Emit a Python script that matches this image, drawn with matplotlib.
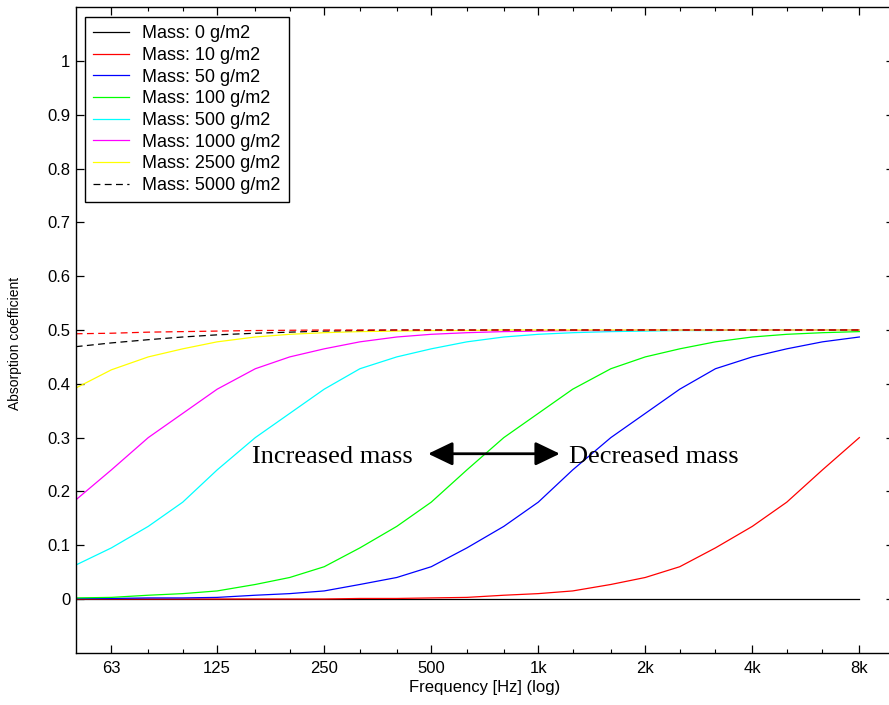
import numpy as np
import matplotlib
matplotlib.use("Agg")
import matplotlib.pyplot as plt
from matplotlib.ticker import FixedLocator, FuncFormatter, NullFormatter

plt.rcParams["font.family"] = ["Liberation Sans", "DejaVu Sans"]

# third-octave band centre frequencies (Hz)
freqs = [50, 63, 80, 100, 125, 160, 200, 250, 315, 400, 500, 630, 800,
         1000, 1250, 1600, 2000, 2500, 3150, 4000, 5000, 6300, 8000]

# curves, one per surface mass
m0 = [0.0] * 23
m10 = [0, 0, 0, 0, 0, 0, 0, 0, 0.001, 0.001, 0.002, 0.003, 0.007, 0.010,
       0.015, 0.027, 0.040, 0.060, 0.095, 0.135, 0.180, 0.240, 0.300]
m50 = [0.001, 0.001, 0.002, 0.002, 0.003, 0.007, 0.010, 0.015, 0.027, 0.040,
       0.060, 0.095, 0.135, 0.180, 0.240, 0.300, 0.345, 0.390, 0.428, 0.450,
       0.465, 0.478, 0.487]
m100 = [0.002, 0.003, 0.007, 0.010, 0.015, 0.027, 0.040, 0.060, 0.095, 0.135,
        0.180, 0.240, 0.300, 0.345, 0.390, 0.428, 0.450, 0.465, 0.478, 0.487,
        0.492, 0.495, 0.497]
m500 = [0.063, 0.095, 0.135, 0.180, 0.240, 0.300, 0.345, 0.390, 0.428, 0.450,
        0.465, 0.478, 0.487, 0.492, 0.495, 0.497, 0.498, 0.499, 0.499, 0.500,
        0.500, 0.500, 0.500]
m1000 = [0.184, 0.240, 0.300, 0.345, 0.390, 0.428, 0.450, 0.465, 0.478, 0.487,
         0.492, 0.495, 0.497, 0.498, 0.499, 0.499, 0.500, 0.500, 0.500, 0.500,
         0.500, 0.500, 0.500]
m2500 = [0.392, 0.426, 0.450, 0.465, 0.478, 0.487, 0.492, 0.495, 0.497, 0.498,
         0.499, 0.499, 0.500, 0.500, 0.500, 0.500, 0.500, 0.500, 0.500, 0.500,
         0.500, 0.500, 0.500]
m5000 = [0.469, 0.476, 0.482, 0.487, 0.491, 0.494, 0.496, 0.498, 0.499, 0.500,
         0.500, 0.500, 0.500, 0.500, 0.500, 0.500, 0.500, 0.500, 0.500, 0.500,
         0.500, 0.500, 0.500]
# extra red dashed curve (not in legend)
m_extra = [0.493, 0.494, 0.496, 0.497, 0.498, 0.499, 0.4995, 0.500, 0.500,
           0.500, 0.500, 0.500, 0.500, 0.500, 0.500, 0.500, 0.500, 0.500,
           0.500, 0.500, 0.500, 0.500, 0.500]

series = [
    ("Mass: 0 g/m2", m0, "#000000", "-"),
    ("Mass: 10 g/m2", m10, "#ff0000", "-"),
    ("Mass: 50 g/m2", m50, "#0000ff", "-"),
    ("Mass: 100 g/m2", m100, "#00ff00", "-"),
    ("Mass: 500 g/m2", m500, "#00ffff", "-"),
    ("Mass: 1000 g/m2", m1000, "#ff00ff", "-"),
    ("Mass: 2500 g/m2", m2500, "#ffff00", "-"),
    ("Mass: 5000 g/m2", m5000, "#000000", "--"),
]

tick_freqs = [63, 125, 250, 500, 1000, 2000, 4000, 8000]
tick_labels = ["63", "125", "250", "500", "1k", "2k", "4k", "8k"]
minor_freqs = [80, 100, 160, 200, 315, 400, 630, 800, 1250, 1600,
               2500, 3150, 5000, 6300]

fig = plt.figure(figsize=(8.89, 7.05), dpi=100)
ax = fig.add_axes([0.08515, 0.07404, 0.92025, 0.91575])

for label, vals, color, ls in series:
    if ls == "--":
        ax.plot(freqs, vals, color=color, lw=0.9, dashes=(5.5, 3.5), label=label)
    else:
        ax.plot(freqs, vals, color=color, lw=0.9, label=label)
ax.plot(freqs, m_extra, color="#ff0000", lw=0.9, dashes=(5.5, 3.5))

ax.set_xscale("log")
ax.set_xlim(50, 10000)
ax.set_ylim(-0.1, 1.1)

ax.xaxis.set_major_locator(FixedLocator(tick_freqs))
ax.xaxis.set_major_formatter(FuncFormatter(lambda v, p: tick_labels[tick_freqs.index(int(round(v)))]
                                           if int(round(v)) in tick_freqs else ""))
ax.xaxis.set_minor_locator(FixedLocator(minor_freqs))
ax.xaxis.set_minor_formatter(NullFormatter())
ax.set_yticks(np.arange(0, 1.01, 0.1))
ax.yaxis.set_major_formatter(FuncFormatter(lambda v, p: "%g" % round(v, 2)))

ax.tick_params(which="both", direction="in", top=True, right=True, labelsize=12)
ax.tick_params(which="major", length=6, width=0.9)
ax.tick_params(which="minor", length=3, width=0.8)
ax.tick_params(axis="x", pad=6)
ax.tick_params(axis="y", pad=4)
for sp in ax.spines.values():
    sp.set_linewidth(1.0)

ax.set_xlabel("Frequency [Hz] (log)", fontsize=12, labelpad=3)
fig.text(15 / 889, 1 - 343 / 705, "Absorption coefficient", rotation=90,
         fontsize=10, ha="center", va="center")

leg = ax.legend(loc="upper left", bbox_to_anchor=(0.011, 0.9845), borderaxespad=0,
                fontsize=13, frameon=True, fancybox=False, framealpha=1,
                edgecolor="black", handlelength=2.0, handletextpad=0.75,
                labelspacing=0.26, borderpad=0.45)
leg.get_frame().set_linewidth(1.0)

# annotation: arrow and text
arrow_left, arrow_right, arrow_y = 490, 1150, 0.27
ax.annotate("", xy=(arrow_right, arrow_y), xytext=(arrow_left, arrow_y),
            arrowprops=dict(arrowstyle="<|-|>,head_length=0.75,head_width=0.36",
                            mutation_scale=20, lw=2, color="black",
                            shrinkA=0, shrinkB=0))
ax.text(445, 0.253, "Increased mass", fontsize=19, family="Liberation Serif",
        ha="right", va="baseline")
ax.text(1219, 0.253, "Decreased mass", fontsize=19, family="Liberation Serif",
        ha="left", va="baseline")

fig.savefig("out.png", dpi=100)
